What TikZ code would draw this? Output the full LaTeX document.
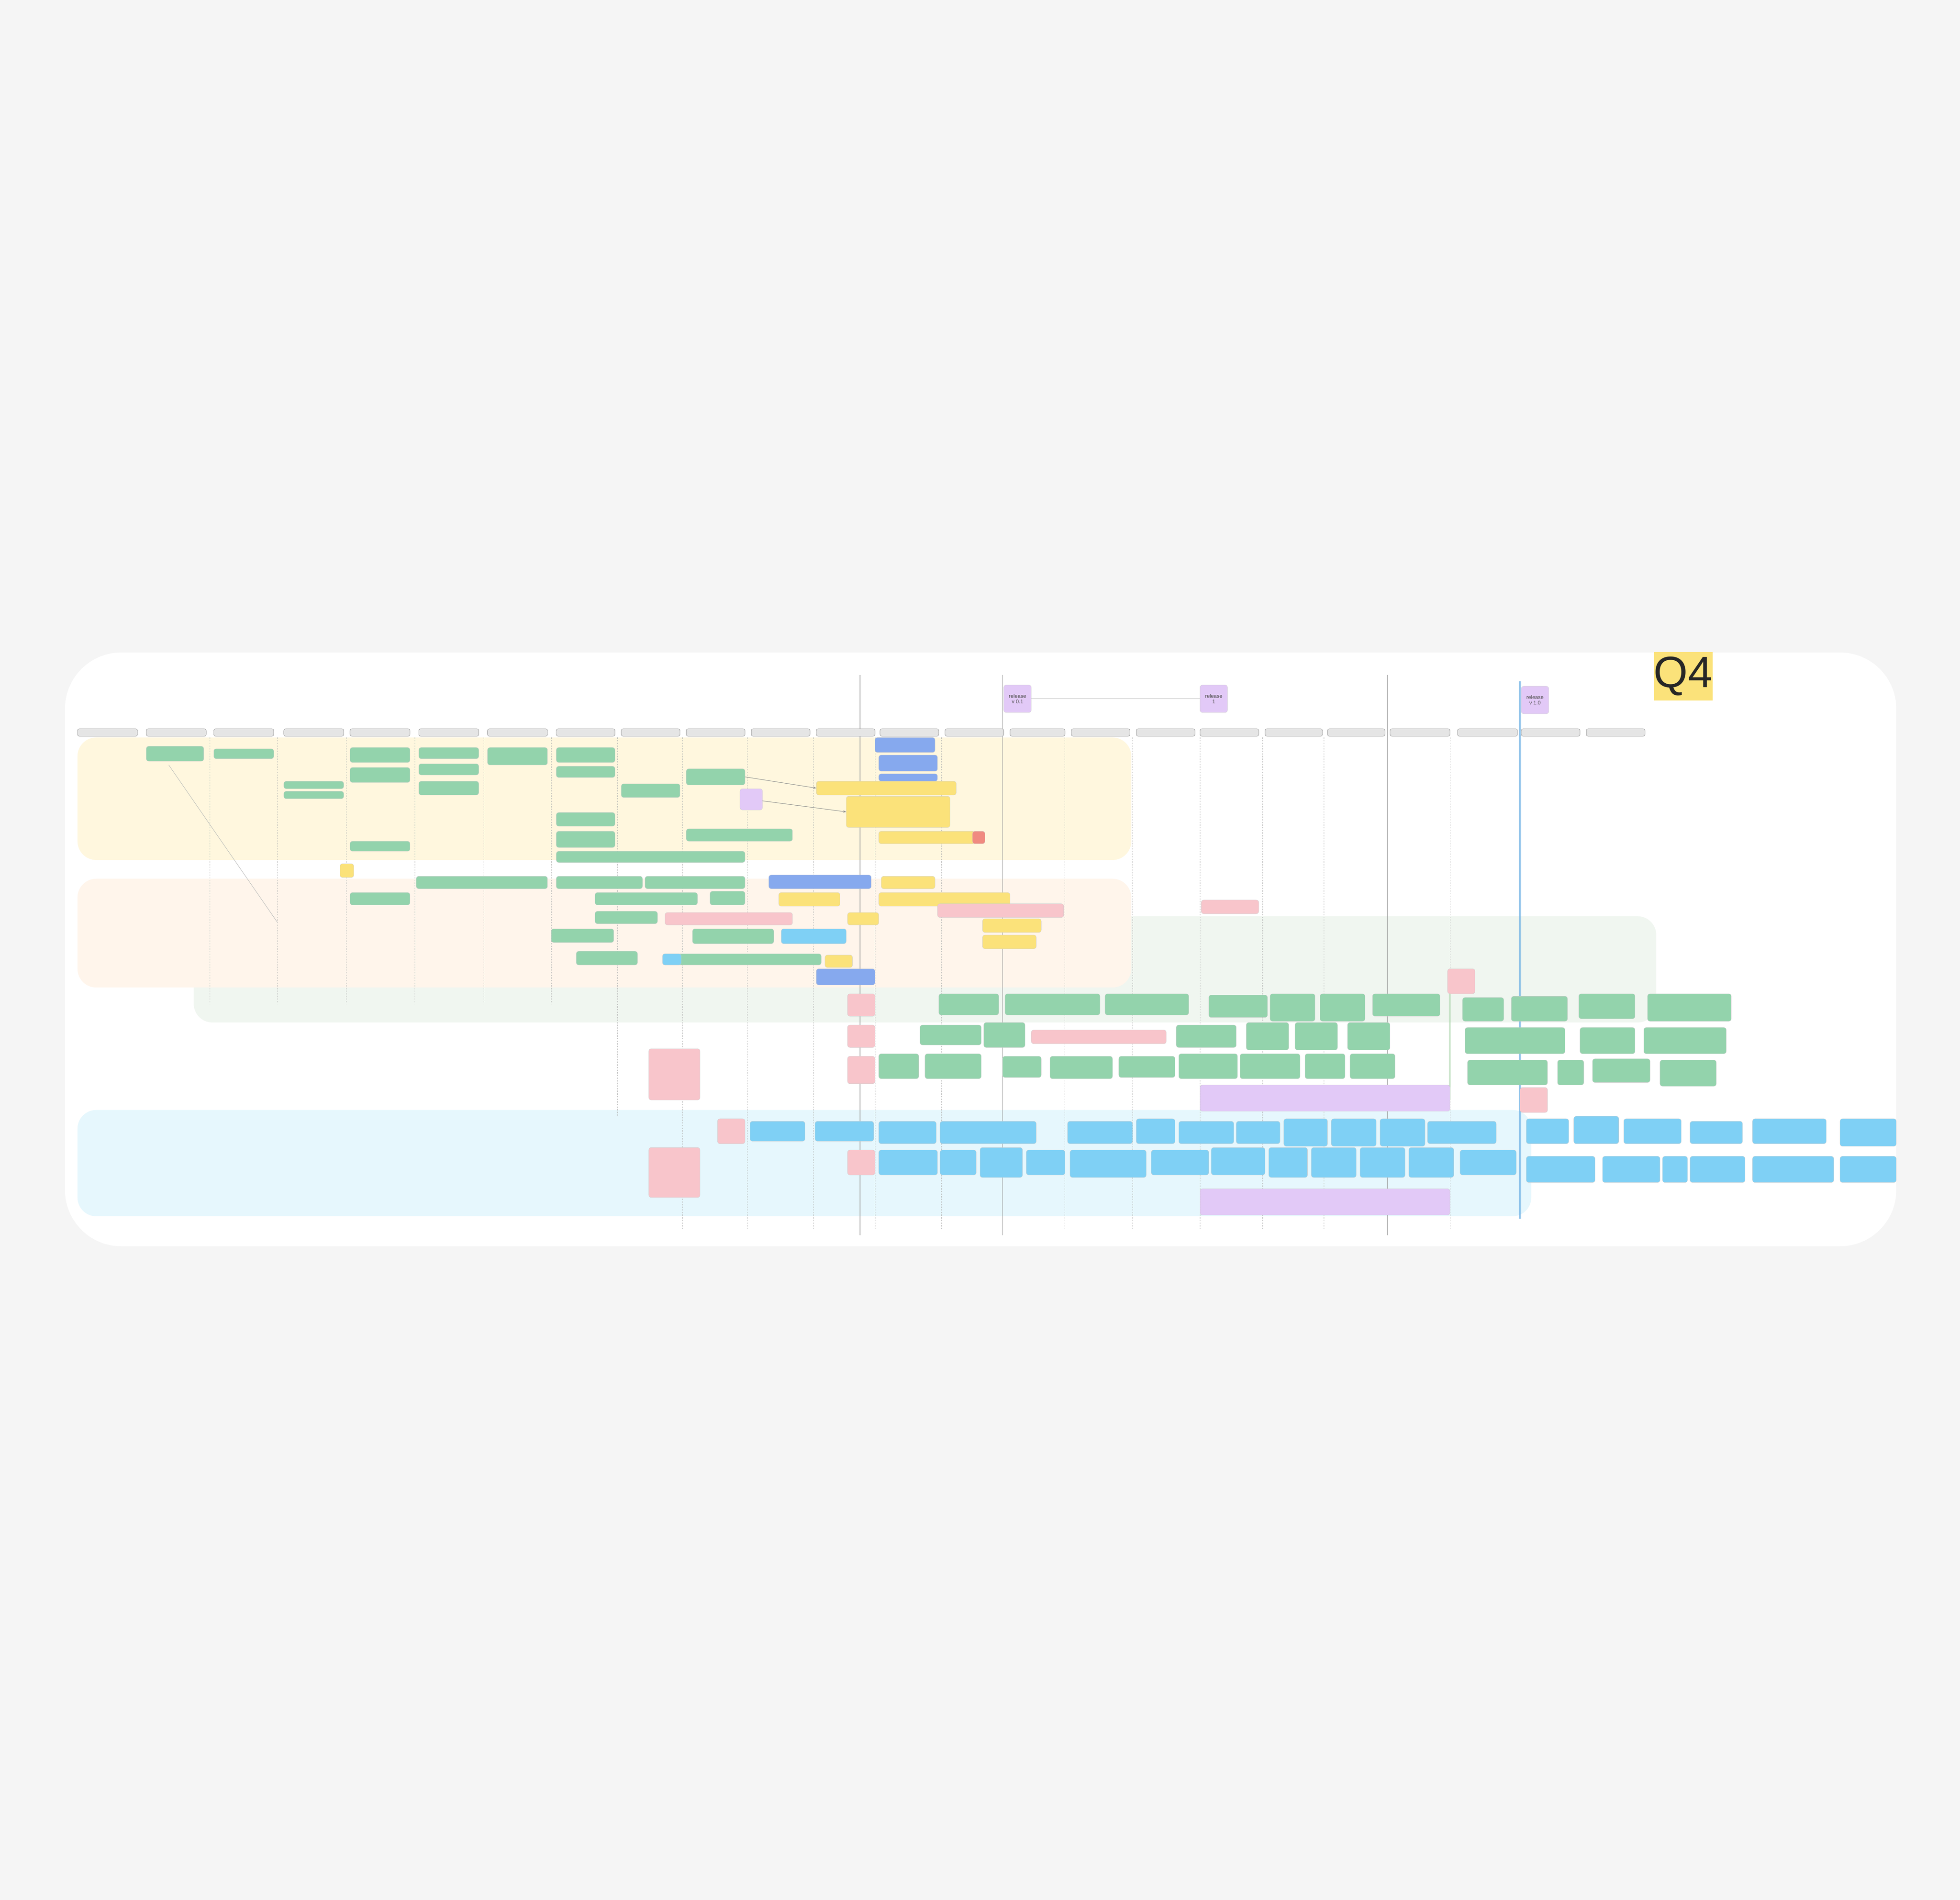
\documentclass[tikz,border=0pt]{standalone}
\usepackage{fontspec}
\setmainfont{Liberation Sans}
\usetikzlibrary{arrows.meta}
\definecolor{gr}{HTML}{93D3AC}
\definecolor{bl}{HTML}{7FD0F5}
\definecolor{pw}{HTML}{86A9EE}
\definecolor{pk}{HTML}{F8C5CB}
\definecolor{yl}{HTML}{FBE27A}
\definecolor{pu}{HTML}{E2C9F7}
\definecolor{rd}{HTML}{F08A80}
\tikzset{bx/.style={rounded corners=0.2cm,draw=black!20,line width=0.5pt,inner sep=0pt,outer sep=0pt},
 hd/.style={rounded corners=0.15cm,draw=black!40,fill=black!10,line width=0.8pt,inner sep=0pt,outer sep=0pt},
 vl/.style={draw=black!30,dashed,line width=0.8pt},
 vs/.style={draw=black!40,line width=1.2pt},
 ar/.style={draw=black!45,line width=1pt,-{Stealth[length=0.25cm]}},
 ml/.style={font=\fontsize{12}{13}\selectfont,align=center,text=black!70},
 R/.style n args={4}{minimum width={(#3-#1)*0.1cm},minimum height={(#4-#2)*0.1cm}}}
\begin{document}
\begin{tikzpicture}[x=0.1cm,y=-0.1cm]
\fill[black!4] (0,0) rectangle (1568,1520);
\useasboundingbox (0,0) rectangle (1568,1520);
\fill[white,rounded corners=4.5cm] (52,522) rectangle (1517,997);
% bands
\fill[green!40!black!6,rounded corners=1.5cm] (155,733) rectangle (1325,818);
\fill[yellow!60!orange!12,rounded corners=1.5cm] (62,590) rectangle (905,688);
\fill[orange!8,rounded corners=1.5cm] (62,703) rectangle (905,790);
\fill[cyan!10,rounded corners=1.5cm] (62,888) rectangle (1225,973);
% vertical lines
\foreach \x in {168,222,277,332,387,441} \draw[vl] (\x,590) -- (\x,803);
\draw[vl] (494,590) -- (494,893);
\foreach \x in {546,598,651,700,753,852,906,960,1010,1059,1160} \draw[vl] (\x,590) -- (\x,983);
\foreach \x in {688,802,1110} \draw[vs] (\x,540) -- (\x,988);
\draw[draw=green!50!black!50,line width=2pt] (1160,775) -- (1160,880);
\draw[draw=cyan!70!blue!60,line width=3pt] (1216,545) -- (1216,975);
% headers
\foreach \a/\b [count=\i] in {62/110,117/165,171/219,227/275,280/328,335/383,390/438,445/492,497/544,549/596,601/648,653/700,704/751,756/803,808/852,857/904,909/956,960/1007,1012/1058,1062/1108,1112/1160,1166/1214,1217/1264,1269/1316}
 \node[hd,minimum width={(\b-\a)*0.1cm},minimum height=0.6cm] (h\i) at ({(\a+\b)/2},586) {};
% milestones
\node[bx,fill=pu,minimum width=2.2cm,minimum height=2.2cm] (m1) at (814,559) {};
\node[bx,fill=pu,minimum width=2.2cm,minimum height=2.2cm] (m2) at (971,559) {};
\node[bx,fill=pu,minimum width=2.2cm,minimum height=2.2cm] (m3) at (1228,560) {};
\node[ml] at (m1) {release\\v 0.1};
\node[ml] at (m2) {release\\1};
\node[ml] at (m3) {release\\v 1.0};
\draw[draw=black!35,line width=1pt] (m1) -- (m2);
\node[fill=yl,minimum width=4.7cm,minimum height=3.9cm,inner sep=0pt,font=\fontsize{100}{100}\selectfont,text=black!85] (q4) at (1346.5,541) {Q4};
% green boxes
\foreach \a/\b/\c/\d [count=\i] in {117/597/163/609,171/599/219/607,227/625/275/631,227/633/275/639,280/598/328/610,280/614/328/626,335/598/383/607,335/611/383/620,335/625/383/636,390/598/438/612,445/598/492/610,445/613/492/622,497/627/544/638,549/615/596/628,445/650/492/661,445/665/492/678,445/681/596/690,549/663/634/673,280/673/328/681,333/701/438/711,280/714/328/724,445/701/514/711,516/701/596/711,476/714/558/724,568/713/596/724,476/729/526/739,441/743/491/754,554/743/619/755,461/761/510/772,530/763/657/772,751/795/799/812,804/795/880/812,884/795/951/812,967/796/1014/814,1016/795/1052/817,1056/795/1092/817,1098/795/1152/813,1170/798/1203/817,1209/797/1254/817,1263/795/1308/815,1318/795/1385/817,736/820/785/836,787/818/820/838,941/820/989/838,997/818/1031/840,1036/818/1070/840,1078/818/1112/840,1172/822/1252/843,1264/822/1308/843,1315/822/1381/843,703/843/735/863,740/843/785/863,802/845/833/862,840/845/890/863,895/845/940/862,943/843/990/863,992/843/1040/863,1044/843/1076/863,1080/843/1116/863,1174/848/1238/868,1246/848/1267/868,1274/847/1320/866,1328/848/1373/869}
 \node[bx,fill=gr,R={\a}{\b}{\c}{\d}] (g\i) at ({(\a+\c)/2},{(\b+\d)/2}) {};
% blue boxes
\foreach \a/\b/\c/\d [count=\i] in {530/763/545/772,625/743/677/755,600/897/644/913,652/897/699/913,703/897/749/915,752/897/829/915,854/897/906/915,909/895/940/915,943/897/987/915,989/897/1024/915,1027/895/1062/917,1065/895/1101/917,1104/895/1140/917,1142/897/1197/915,1221/895/1255/915,1259/893/1295/915,1299/895/1345/915,1352/897/1394/915,1402/895/1461/915,1472/895/1517/917,703/920/750/940,752/920/781/940,784/918/818/942,821/920/852/940,856/920/917/942,921/920/967/940,969/918/1012/940,1015/918/1046/942,1049/918/1085/942,1088/918/1124/942,1127/918/1163/942,1168/920/1213/940,1221/925/1276/946,1282/925/1328/946,1330/925/1350/946,1352/925/1396/946,1402/925/1467/946,1472/925/1517/946}
 \node[bx,fill=bl,R={\a}{\b}{\c}{\d}] (b\i) at ({(\a+\c)/2},{(\b+\d)/2}) {};
% periwinkle
\foreach \a/\b/\c/\d [count=\i] in {700/590/748/602,703/604/750/617,703/619/750/625,615/700/697/711,653/775/700/788}
 \node[bx,fill=pw,R={\a}{\b}{\c}{\d}] (p\i) at ({(\a+\c)/2},{(\b+\d)/2}) {};
% yellow
\foreach \a/\b/\c/\d [count=\i] in {653/625/765/636,677/637/760/662,703/665/780/675,623/714/672/725,678/730/703/740,705/701/748/711,703/714/808/725,786/735/833/746,786/748/829/759,660/764/682/774,272/691/283/702}
 \node[bx,fill=yl,R={\a}{\b}{\c}{\d}] (y\i) at ({(\a+\c)/2},{(\b+\d)/2}) {};
\node[bx,fill=rd,minimum width=1cm,minimum height=1cm] (r1) at (783,670) {};
% pink
\foreach \a/\b/\c/\d [count=\i] in {532/730/634/740,750/723/851/734,961/720/1007/731,825/824/933/835,678/795/700/813,678/820/700/838,678/845/700/867,678/920/700/940,519/839/560/880,519/918/560/958,574/895/596/915,1158/775/1180/795,1216/870/1238/890}
 \node[bx,fill=pk,R={\a}{\b}{\c}{\d}] (k\i) at ({(\a+\c)/2},{(\b+\d)/2}) {};
% purple bars
\node[bx,fill=pu,minimum width=20cm,minimum height=2.1cm] (u1) at (1060,878.5) {};
\node[bx,fill=pu,minimum width=20cm,minimum height=2.1cm] (u2) at (1060,961.5) {};
\node[bx,fill=pu,minimum width=1.8cm,minimum height=1.7cm] (sq) at (601,639.5) {};
% connectors
\coordinate (d1) at (135,612);
\coordinate (d2) at (222,738);
\draw[draw=black!30,line width=0.8pt] (d1) -- (d2);
\draw[ar] (sq) -- (y2.west);
\draw[ar] (g14.east) -- (y1.west);
\end{tikzpicture}
\end{document}
